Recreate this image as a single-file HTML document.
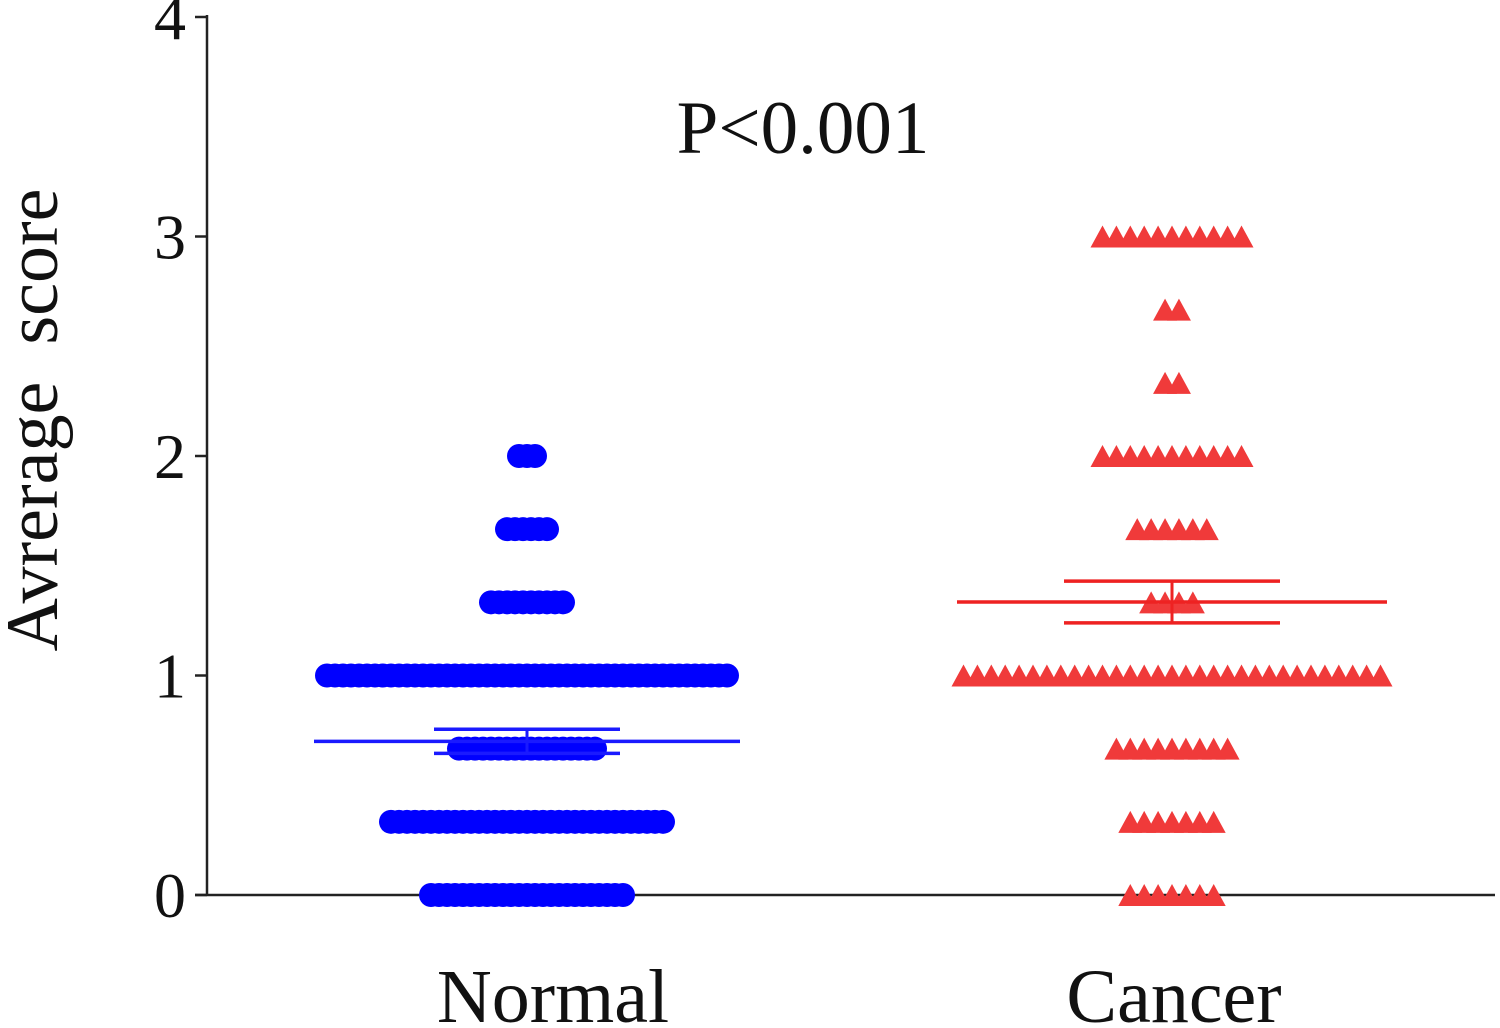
<!DOCTYPE html>
<html><head><meta charset="utf-8"><style>
html,body{margin:0;padding:0;background:#fff;}
svg{display:block;font-family:"Liberation Serif",serif;}
</style></head><body>
<svg id="chart" width="1500" height="1028" viewBox="0 0 1500 1028"></svg>
<script>
const levels = [0, 1/3, 2/3, 1, 4/3, 5/3, 2, 7/3, 8/3, 3];
const normalCounts = [25, 35, 18, 51, 10, 6, 3, 0, 0, 0];
const cancerCounts = [7, 7, 9, 31, 4, 6, 11, 2, 2, 11];
const groups = ["Normal", "Cancer"];
const groupMeans = [0.70, 1.335];
const groupSems = [0.055, 0.095];
const yTicks = [0, 1, 2, 3, 4];

const NS = "http://www.w3.org/2000/svg";
const svg = document.getElementById('chart');
const y0 = 895, yUnit = 219.5;
function yScale(v){ return y0 - v * yUnit; }
const groupX = [527, 1172];
const labelX = [553, 1174];
function xScale(i){ return groupX[i]; }
function mk(tag, attrs, parent){
  const e = document.createElementNS(NS, tag);
  for (const k in attrs) e.setAttribute(k, attrs[k]);
  (parent || svg).appendChild(e);
  return e;
}

const yAxis = mk('line', {x1:207, y1:15, x2:207, y2:y0, stroke:'#222', 'stroke-width':2.5});


const xAxis = mk('line', {x1:195, y1:y0, x2:1495, y2:y0, stroke:'#222', 'stroke-width':2.5});



yTicks.forEach(t => {
  const y = yScale(t);
  const tk = mk('line', {x1:195, y1:y, x2:207, y2:y, stroke:'#222', 'stroke-width':2.5});
  
  
  const lb = mk('text', {x:186, y:y + 22, 'text-anchor':'end', 'font-size':64, fill:'#111'});
  lb.textContent = t;
  
  
});

const yt = mk('text', {x:0, y:0, transform:'translate(57,420) rotate(-90)', 'text-anchor':'middle', 'font-size':74, fill:'#111'});
yt.textContent = 'Avrerage\u00a0\u00a0score';



const pt = mk('text', {x:803, y:153, 'text-anchor':'middle', 'font-size':75, fill:'#111'});
pt.textContent = 'P<0.001';



groups.forEach((g, i) => {
  const t = mk('text', {x:labelX[i], y:1022, 'text-anchor':'middle', 'font-size':76, fill:'#111'});
  t.textContent = g;
  
  
});

const ng = mk('g', {fill:'#0000ff'});


const cs = 8;
levels.forEach((v, li) => {
  const n = normalCounts[li];
  for (let k = 0; k < n; k++) {
    const cx = xScale(0) + (k - (n - 1) / 2) * cs;
    const c = mk('circle', {cx:cx, cy:yScale(v), r:12}, ng);
    
    
  }
});

const cg = mk('g', {fill:'#f03a3a'});


const ts = 13.9;
levels.forEach((v, li) => {
  const n = cancerCounts[li];
  for (let k = 0; k < n; k++) {
    const cx = xScale(1) + (k - (n - 1) / 2) * ts;
    const cy = yScale(v);
    const p = mk('polygon', {points:`${cx-12},${cy+11} ${cx+12},${cy+11} ${cx},${cy-11}`}, cg);
    
    
  }
});

const colors = ['#1a1aff', '#ee2222'];
const halfW = [213, 215], capW = [93, 108];
groups.forEach((g, i) => {
  const x = xScale(i), m = groupMeans[i], s = groupSems[i];
  const ml = mk('line', {x1:x - halfW[i], x2:x + halfW[i], y1:yScale(m), y2:yScale(m), stroke:colors[i], 'stroke-width':3.5});
  
  
  const vl = mk('line', {x1:x, x2:x, y1:yScale(m + s), y2:yScale(m - s), stroke:colors[i], 'stroke-width':3});
  
  
  [m + s, m - s].forEach(v => {
    const cp = mk('line', {x1:x - capW[i], x2:x + capW[i], y1:yScale(v), y2:yScale(v), stroke:colors[i], 'stroke-width':3.5});
    
    
  });
});
</script>
</body></html>
